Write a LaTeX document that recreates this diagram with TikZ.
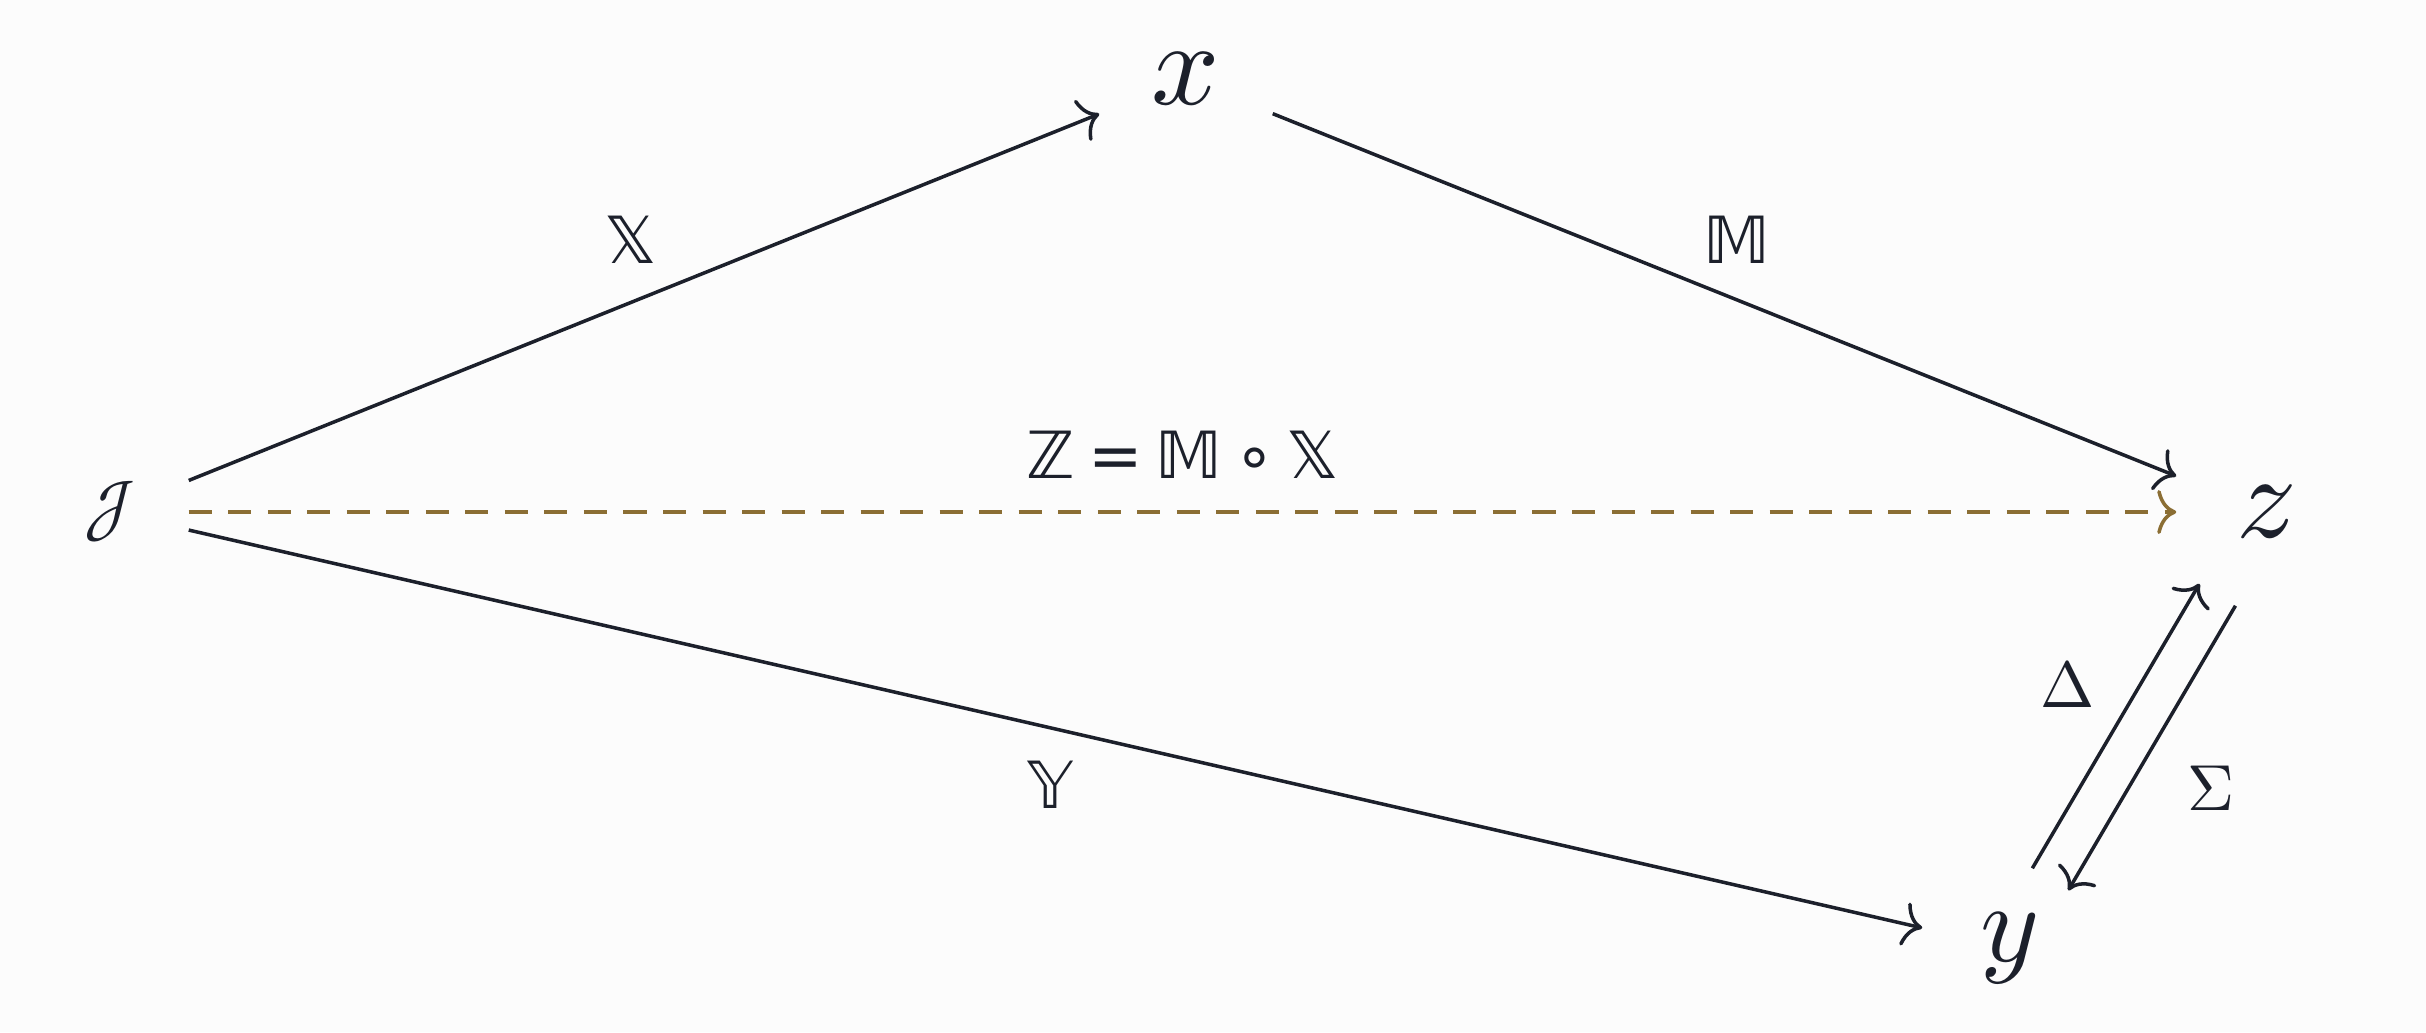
\documentclass[tikz,border=0pt]{standalone}
\usepackage{unicode-math}
\setmathfont{Latin Modern Math}
\newfontfamily\dsfont{DejaVu Sans}
\usetikzlibrary{arrows.meta}

\definecolor{ink}{RGB}{28,32,43}
\definecolor{gold}{RGB}{139,110,52}
\definecolor{paper}{RGB}{252,252,252}

\begin{document}
\begin{tikzpicture}[x=0.01cm, y=-0.01cm,
  obj/.style={inner sep=0pt, text=ink, minimum width=1.72cm, minimum height=1.5cm, font=\fontsize{34}{40}\selectfont},
  lbl/.style={inner sep=0pt, text=ink, font=\fontsize{18.5}{22}\selectfont},
  arr/.style={draw=ink, line width=1pt, -{Computer Modern Rightarrow[length=1.9mm,width=4.4mm]}},
  dsh/.style={draw=gold, line width=1pt, dash pattern=on 0.23cm off 0.165cm, -{Computer Modern Rightarrow[length=1.9mm,width=4.4mm]}}]
  \fill[paper] (0,0) rectangle (2426,1032);
  \useasboundingbox (0,0) rectangle (2426,1032);
  % objects
  \node[obj, minimum width=1.56cm, font=\fontsize{21}{26}\selectfont] (nJ) at (110,512) {$\mathscr{J}$};
  \node[obj] (nX) at (1186,79) {$\mathscr{x}$};
  \node[obj, minimum width=1.78cm, minimum height=1.64cm] (nZ) at (2266,512) {$\mathscr{z}$};
  \node[obj, minimum width=1.74cm, minimum height=1.36cm, font=\fontsize{32}{38}\selectfont] (nY) at (2010,948) {$\mathscr{y}$};
  % morphisms
  \draw[arr] (nJ) -- (nX);
  \draw[arr] (nX) -- (nZ);
  \draw[arr] (nJ) -- (nY);
  \draw[dsh] (nJ) -- (nZ);
  \draw[arr, transform canvas={shift={(-18,-11)}}] (nY) -- (nZ);
  \draw[arr, transform canvas={shift={(18,11)}}] (nZ) -- (nY);
  % labels
  \node[lbl] (lX) at (631,240) {\dsfont 𝕏};
  \node[lbl] (lM) at (1737,240) {\dsfont 𝕄};
  \node[lbl] (lY) at (1050,785) {\dsfont 𝕐};
  \node[lbl] (lZ) at (1183,455) {\dsfont ℤ\hspace{0.2em}=\hspace{0.2em}𝕄\hspace{0.18em}∘\hspace{0.18em}𝕏};
  \node[lbl] (lD) at (2068,684) {$\Delta$};
  \node[lbl] (lS) at (2211,788) {$\Sigma$};
\end{tikzpicture}
\end{document}
